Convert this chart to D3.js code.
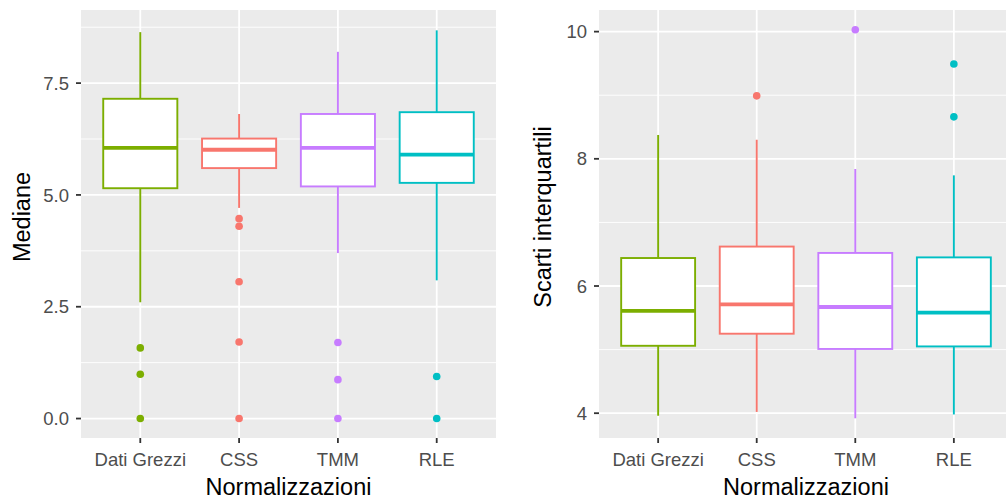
<!DOCTYPE html>
<html>
<head>
<meta charset="utf-8">
<script src="https://cdn.jsdelivr.net/npm/d3@7"></script>
<style>
  body { margin: 0; background: #fff; }
  svg { display: block; font-family: "Liberation Sans", Arial, sans-serif; }
</style>
</head>
<body>
<div id="chart"></div>
<script>
var categories = ["Dati Grezzi", "CSS", "TMM", "RLE"]
var colors = ["#7CAE00", "#F8766D", "#C77CFF", "#00BFC4"]

// mediane
var medLower = [2.60, 4.71, 3.70, 3.09]
var medQ1 = [5.15, 5.60, 5.19, 5.27]
var medMedian = [6.05, 6.01, 6.05, 5.90]
var medQ3 = [7.15, 6.26, 6.81, 6.85]
var medUpper = [8.64, 6.81, 8.20, 8.68]
var medOutliers = [[1.58, 0.99, 0], [4.47, 4.30, 3.06, 1.71, 0], [1.70, 0.87, 0], [0.94, 0]]
var medTicks = [0, 2.5, 5, 7.5]
var medMinor = [1.25, 3.75, 6.25, 8.75]

// scarti interquartili
var iqrLower = [3.96, 4.02, 3.92, 3.98]
var iqrQ1 = [5.06, 5.25, 5.01, 5.05]
var iqrMedian = [5.61, 5.71, 5.67, 5.58]
var iqrQ3 = [6.44, 6.62, 6.52, 6.45]
var iqrUpper = [8.375, 8.30, 7.84, 7.74]
var iqrOutliers = [[], [8.99], [10.03], [9.49, 8.66]]
var iqrTicks = [4, 6, 8, 10]
var iqrMinor = [5, 7, 9]

var W = 1006, H = 501
var svg = d3.select("#chart").append("svg").attr("width", W).attr("height", H)

function panel(opt) {
    var top = 10, bottom = 438
    var x = d3.scalePoint().domain(categories).range([opt.left, opt.right]).padding(0.6)
    var step = x.step()
    var y = d3.scaleLinear().domain(opt.domain).range([bottom, top])
    var g = svg.append("g")
    var clipId = "clip" + opt.id
    g.append("clipPath").attr("id", clipId).append("rect")
        .attr("x", opt.left).attr("y", top).attr("width", opt.right - opt.left).attr("height", bottom - top)
    g.append("rect")
        .attr("x", opt.left).attr("y", top)
        .attr("width", opt.right - opt.left).attr("height", bottom - top)
        .attr("fill", "#EBEBEB")
    var grid = g.append("g").attr("clip-path", "url(#" + clipId + ")")
    grid.selectAll(".minor").data(opt.minor).enter().append("line")
        .attr("x1", opt.left).attr("x2", opt.right)
        .attr("y1", d => y(d)).attr("y2", d => y(d))
        .attr("stroke", "#fff").attr("stroke-width", 0.9)
    grid.selectAll(".major").data(opt.ticks).enter().append("line")
        .attr("x1", opt.left).attr("x2", opt.right)
        .attr("y1", d => y(d)).attr("y2", d => y(d))
        .attr("stroke", "#fff").attr("stroke-width", 1.8)
    grid.selectAll(".vmajor").data(categories).enter().append("line")
        .attr("x1", d => x(d)).attr("x2", d => x(d))
        .attr("y1", top).attr("y2", bottom)
        .attr("stroke", "#fff").attr("stroke-width", 1.8)

    var bw = step * 0.75
    var boxes = grid.selectAll(".box").data(categories).enter().append("g")
    boxes.each(function(c, i) {
        var b = d3.select(this)
        var cx = x(c), col = colors[i]
        b.append("line").attr("x1", cx).attr("x2", cx)
            .attr("y1", y(opt.upper[i])).attr("y2", y(opt.q3[i]))
            .attr("stroke", col).attr("stroke-width", 1.9)
        b.append("line").attr("x1", cx).attr("x2", cx)
            .attr("y1", y(opt.q1[i])).attr("y2", y(opt.lower[i]))
            .attr("stroke", col).attr("stroke-width", 1.9)
        b.append("rect")
            .attr("x", cx - bw / 2).attr("y", y(opt.q3[i]))
            .attr("width", bw).attr("height", y(opt.q1[i]) - y(opt.q3[i]))
            .attr("fill", "#fff").attr("stroke", col).attr("stroke-width", 1.9)
        b.append("line").attr("x1", cx - bw / 2).attr("x2", cx + bw / 2)
            .attr("y1", y(opt.median[i])).attr("y2", y(opt.median[i]))
            .attr("stroke", col).attr("stroke-width", 3.8)
        b.selectAll("circle").data(opt.outliers[i]).enter().append("circle")
            .attr("cx", cx).attr("cy", d => y(d)).attr("r", 3.8)
            .attr("fill", col)
    })

    // y axis
    var ya = g.append("g")
    ya.selectAll("line").data(opt.ticks).enter().append("line")
        .attr("x1", opt.left - 5).attr("x2", opt.left)
        .attr("y1", d => y(d)).attr("y2", d => y(d))
        .attr("stroke", "#333").attr("stroke-width", 1.8)
    ya.selectAll("text").data(opt.ticks).enter().append("text")
        .attr("x", opt.left - 12).attr("y", d => y(d)).attr("dy", "0.36em")
        .attr("text-anchor", "end").attr("fill", "#4D4D4D").attr("font-size", 18.5)
        .text(d => opt.fmt(d))
    // x axis
    var xa = g.append("g")
    xa.selectAll("line").data(categories).enter().append("line")
        .attr("x1", d => x(d)).attr("x2", d => x(d))
        .attr("y1", bottom).attr("y2", bottom + 5)
        .attr("stroke", "#333").attr("stroke-width", 1.8)
    xa.selectAll("text").data(categories).enter().append("text")
        .attr("x", d => x(d)).attr("y", 466)
        .attr("text-anchor", "middle").attr("fill", "#4D4D4D").attr("font-size", 18.5)
        .text(d => d)
    g.append("text")
        .attr("x", (opt.left + opt.right) / 2).attr("y", 495)
        .attr("text-anchor", "middle").attr("font-size", 23.5).attr("fill", "#000")
        .text("Normalizzazioni")
    g.append("text")
        .attr("transform", "translate(" + opt.titleX + "," + 217 + ") rotate(-90)")
        .attr("text-anchor", "middle").attr("font-size", 23.5).attr("fill", "#000")
        .text(opt.title)
}

panel({
    id: 1, left: 81, right: 496, domain: [-0.435, 9.135],
    ticks: medTicks, minor: medMinor, fmt: d3.format(".1f"),
    lower: medLower, q1: medQ1, median: medMedian, q3: medQ3, upper: medUpper, outliers: medOutliers,
    title: "Mediane", titleX: 30
})
panel({
    id: 2, left: 599, right: 1013, domain: [3.61, 10.34],
    ticks: iqrTicks, minor: iqrMinor, fmt: d3.format("d"),
    lower: iqrLower, q1: iqrQ1, median: iqrMedian, q3: iqrQ3, upper: iqrUpper, outliers: iqrOutliers,
    title: "Scarti interquartili", titleX: 551
})
</script>
</body>
</html>
